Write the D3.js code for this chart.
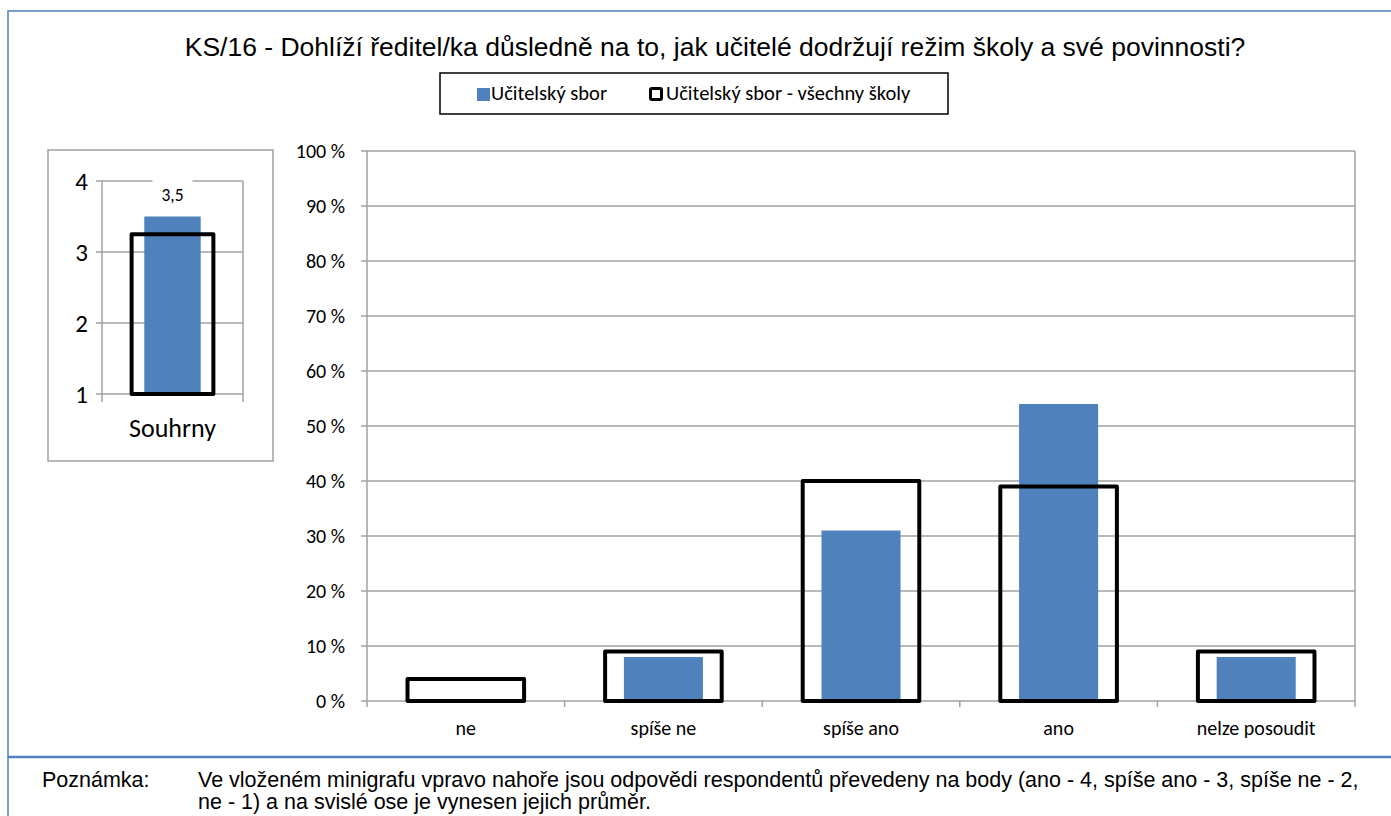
<!DOCTYPE html>
<html>
<head>
<meta charset="utf-8">
<script src="https://cdn.jsdelivr.net/npm/d3@7"></script>
<style>
  body { margin: 0; background: #fff; }
  svg { display: block; }
</style>
</head>
<body>
<svg id="chart" width="1391" height="816"></svg>
<script>
// data
var categories = ["ne", "spíše ne", "spíše ano", "ano", "nelze posoudit"];
var sborValues = [0, 0.08, 0.31, 0.54, 0.08];          // Učitelský sbor
var vsechnyValues = [0.04, 0.09, 0.40, 0.39, 0.09];    // Učitelský sbor - všechny školy
var yTicks = [0, 0.1, 0.2, 0.3, 0.4, 0.5, 0.6, 0.7, 0.8, 0.9, 1];

var miniCategory = ["Souhrny"];
var miniSbor = [3.5];
var miniVsechny = [3.25];
var miniTicks = [1, 2, 3, 4];

var seriesNames = ["Učitelský sbor", "Učitelský sbor - všechny školy"];
var title = "KS/16 - Dohlíží ředitel/ka důsledně na to, jak učitelé dodržují režim školy a své povinnosti?";
var noteLabel = "Poznámka:";
var noteLines = [
  "Ve vloženém minigrafu vpravo nahoře jsou odpovědi respondentů převedeny na body (ano - 4, spíše ano - 3, spíše ne - 2,",
  "ne - 1) a na svislé ose je vynesen jejich průměr."
];

var blue = "#4F81BD";
var grid = "#a0a0a0";
var calib = "Carlito, Calibri, Lato, sans-serif";
var arial = "'Liberation Sans', Arial, sans-serif";

var svg = d3.select("#chart");
svg.append("rect").attr("width", 1391).attr("height", 816).attr("fill", "#fff");

// outer frame (top + left visible) and separator above the note
svg.append("path")
  .attr("d", "M8,816 V11 H1391")
  .attr("fill", "none").attr("stroke", blue).attr("stroke-width", 1.5);
svg.append("line")
  .attr("x1", 8).attr("x2", 1391).attr("y1", 757).attr("y2", 757)
  .attr("stroke", blue).attr("stroke-width", 2.5);

// title
svg.append("text")
  .attr("x", 715).attr("y", 56)
  .attr("text-anchor", "middle")
  .style("font-family", arial).style("font-size", "26.5px")
  .text(title);

// legend
var lg = svg.append("g");
lg.append("rect").attr("x", 440).attr("y", 73).attr("width", 508).attr("height", 41)
  .attr("fill", "#fff").attr("stroke", "#000").attr("stroke-width", 1.5);
lg.append("rect").attr("x", 477).attr("y", 88).attr("width", 13).attr("height", 13).attr("fill", blue);
lg.append("text").attr("x", 491).attr("y", 100)
  .style("font-family", calib).style("font-size", "20.5px").text(seriesNames[0]);
lg.append("rect").attr("x", 650.5).attr("y", 88.5).attr("width", 11).attr("height", 11)
  .attr("rx", 1.5).attr("fill", "#fff").attr("stroke", "#000").attr("stroke-width", 3);
lg.append("text").attr("x", 666).attr("y", 100)
  .style("font-family", calib).style("font-size", "20.5px").text(seriesNames[1]);

// ---------- main chart ----------
var x = d3.scaleBand().domain(categories).range([367, 1355]).padding(0);
var y = d3.scaleLinear().domain([0, 1]).range([701, 151]);
var bw = x.bandwidth();

var main = svg.append("g");

// horizontal gridlines
main.selectAll("line.grid").data(yTicks).enter().append("line")
  .attr("class", "grid")
  .attr("x1", 361).attr("x2", 1355)
  .attr("y1", function(d) { return y(d); }).attr("y2", function(d) { return y(d); })
  .attr("stroke", grid).attr("stroke-width", 1.5);

// y axis
var yAxis = d3.axisLeft(y).tickValues(yTicks).tickSize(0).tickPadding(22)
  .tickFormat(function(d) { return Math.round(d * 100) + " %"; });
var yg = main.append("g").attr("transform", "translate(367,0)").call(yAxis);
yg.select(".domain").remove();
yg.selectAll("text").style("font-family", calib).style("font-size", "20px").attr("fill", "#000");

// vertical axis line + right border line
main.append("line").attr("x1", 367).attr("x2", 367).attr("y1", 151).attr("y2", 707)
  .attr("stroke", grid).attr("stroke-width", 1.5);
main.append("line").attr("x1", 1355).attr("x2", 1355).attr("y1", 151).attr("y2", 707)
  .attr("stroke", grid).attr("stroke-width", 1.5);

// category ticks
var xAxis = d3.axisBottom(x).tickSize(0).tickPadding(20);
var xg = main.append("g").attr("transform", "translate(0,701)").call(xAxis);
xg.select(".domain").remove();
xg.selectAll("text").style("font-family", calib).style("font-size", "20px").attr("fill", "#000");
main.selectAll("line.xtick").data(categories.slice(1)).enter().append("line")
  .attr("class", "xtick")
  .attr("x1", function(d) { return x(d); }).attr("x2", function(d) { return x(d); })
  .attr("y1", 701).attr("y2", 707)
  .attr("stroke", grid).attr("stroke-width", 1.5);

// blue bars
main.selectAll("rect.sbor").data(categories).enter().append("rect")
  .attr("class", "sbor")
  .attr("x", function(d) { return x(d) + bw * 0.3; })
  .attr("width", bw * 0.4)
  .attr("y", function(d, i) { return y(sborValues[i]); })
  .attr("height", function(d, i) { return y(0) - y(sborValues[i]); })
  .attr("fill", blue);

// outlined bars (all schools)
main.selectAll("rect.vsechny").data(categories).enter().append("rect")
  .attr("class", "vsechny")
  .attr("x", function(d) { return x(d) + bw * 0.205; })
  .attr("width", bw * 0.59)
  .attr("y", function(d, i) { return y(vsechnyValues[i]); })
  .attr("height", function(d, i) { return y(0) - y(vsechnyValues[i]); })
  .attr("fill", "none").attr("stroke", "#000").attr("stroke-width", 4)
  .attr("stroke-linejoin", "round");

// ---------- mini chart ----------
var mini = svg.append("g");
mini.append("rect").attr("x", 48).attr("y", 150).attr("width", 225).attr("height", 311)
  .attr("fill", "#fff").attr("stroke", grid).attr("stroke-width", 1.5);

var mx = d3.scaleBand().domain(miniCategory).range([102, 243]).padding(0);
var my = d3.scaleLinear().domain([1, 4]).range([394, 181]);
var mbw = mx.bandwidth();

mini.selectAll("line.mgrid").data(miniTicks).enter().append("line")
  .attr("class", "mgrid")
  .attr("x1", 96).attr("x2", 243)
  .attr("y1", function(d) { return my(d); }).attr("y2", function(d) { return my(d); })
  .attr("stroke", grid).attr("stroke-width", 1.5);
mini.append("line").attr("x1", 102).attr("x2", 102).attr("y1", 181).attr("y2", 402)
  .attr("stroke", grid).attr("stroke-width", 1.5);
mini.append("line").attr("x1", 243).attr("x2", 243).attr("y1", 181).attr("y2", 402)
  .attr("stroke", grid).attr("stroke-width", 1.5);

var myAxis = d3.axisLeft(my).tickValues(miniTicks).tickSize(0).tickPadding(14).tickFormat(d3.format("d"));
var myg = mini.append("g").attr("transform", "translate(102,0)").call(myAxis);
myg.select(".domain").remove();
myg.selectAll("text").style("font-family", calib).style("font-size", "25px").attr("fill", "#000");

var mxAxis = d3.axisBottom(mx).tickSize(0).tickPadding(25);
var mxg = mini.append("g").attr("transform", "translate(0,394)").call(mxAxis);
mxg.select(".domain").remove();
mxg.selectAll("text").style("font-family", calib).style("font-size", "26px").attr("fill", "#000");

mini.selectAll("rect.msbor").data(miniCategory).enter().append("rect")
  .attr("class", "msbor")
  .attr("x", function(d) { return mx(d) + mbw * 0.3; })
  .attr("width", mbw * 0.4)
  .attr("y", function(d, i) { return my(miniSbor[i]); })
  .attr("height", function(d, i) { return my(1) - my(miniSbor[i]); })
  .attr("fill", blue);

mini.selectAll("rect.mvsechny").data(miniCategory).enter().append("rect")
  .attr("class", "mvsechny")
  .attr("x", function(d) { return mx(d) + mbw * 0.21; })
  .attr("width", mbw * 0.58)
  .attr("y", function(d, i) { return my(miniVsechny[i]); })
  .attr("height", function(d, i) { return my(1) - my(miniVsechny[i]); })
  .attr("fill", "none").attr("stroke", "#000").attr("stroke-width", 4)
  .attr("stroke-linejoin", "round");

// data label with white backing over the gridline
var lab = mini.selectAll("g.mlabel").data(miniCategory).enter().append("g").attr("class", "mlabel");
lab.append("rect")
  .attr("x", function(d) { return mx(d) + mbw / 2 - 20; })
  .attr("y", 176).attr("width", 40).attr("height", 10)
  .attr("fill", "#fff");
lab.append("text")
  .attr("x", function(d) { return mx(d) + mbw / 2; })
  .attr("y", 201)
  .attr("text-anchor", "middle")
  .style("font-family", calib).style("font-size", "17.5px")
  .text(function(d, i) { return d3.format(".1f")(miniSbor[i]).replace(".", ","); });

// ---------- note ----------
svg.append("text").attr("x", 42).attr("y", 787)
  .style("font-family", arial).style("font-size", "21.5px").text(noteLabel);
svg.append("g").selectAll("text").data(noteLines).enter().append("text")
  .attr("x", 198).attr("y", function(d, i) { return 787 + i * 22; })
  .style("font-family", arial).style("font-size", "21.5px")
  .text(function(d) { return d; });
</script>
</body>
</html>
